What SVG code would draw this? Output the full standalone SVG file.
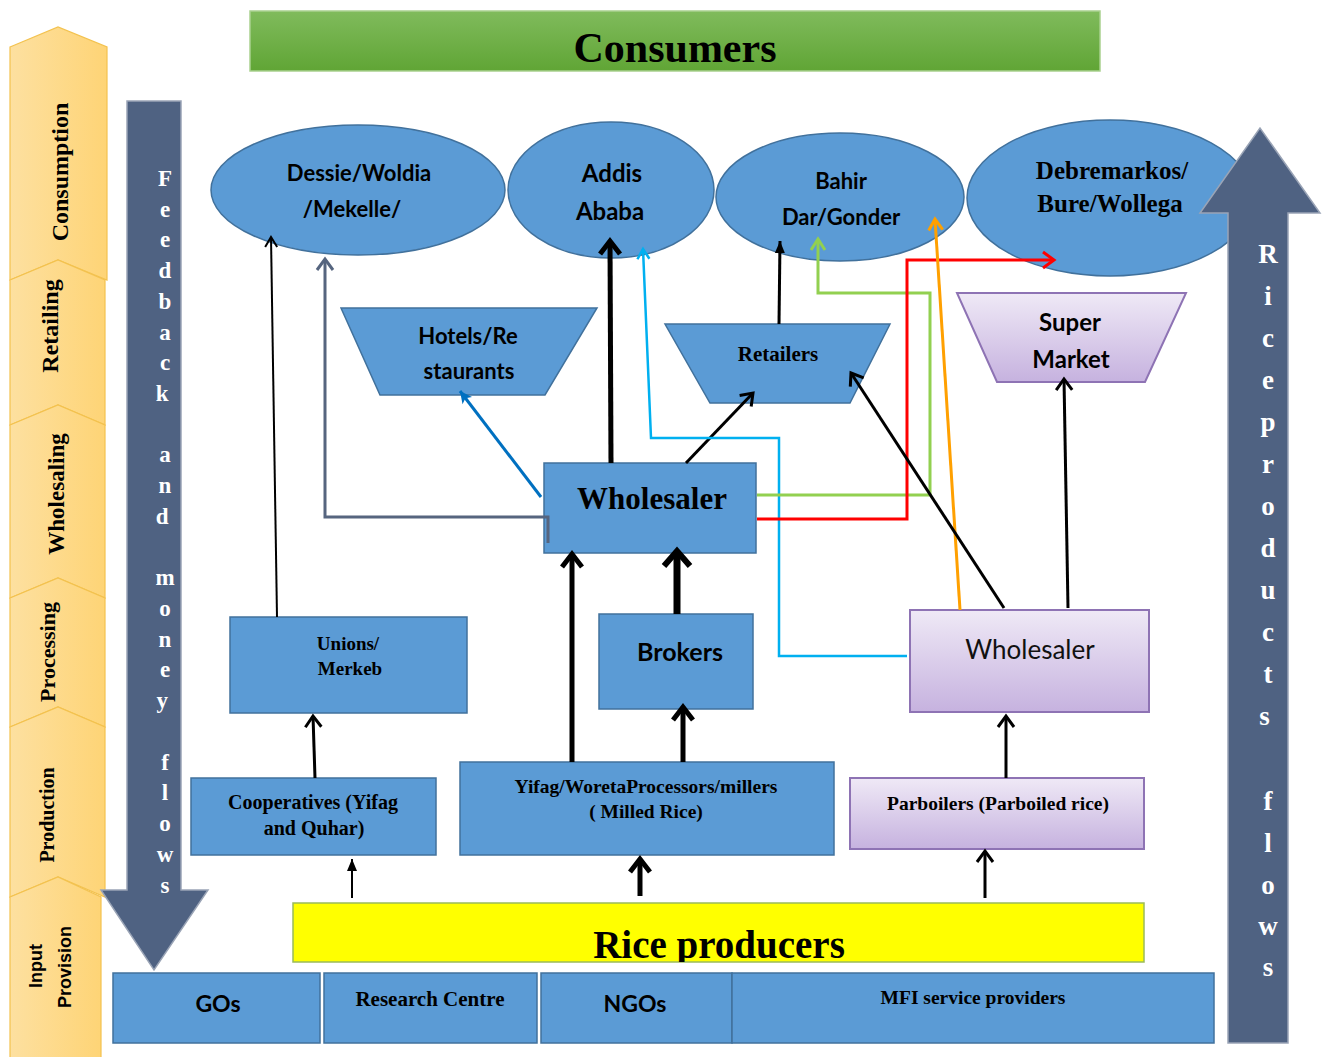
<svg xmlns="http://www.w3.org/2000/svg" width="1325" height="1057" viewBox="0 0 1325 1057">
<defs>
<style>
.blue{fill:#5b9bd5;stroke:#41719c;stroke-width:1.5}
.purp{fill:url(#gp);stroke:#8e73b4;stroke-width:2}
.chev{fill:url(#go);stroke:#f3c24f;stroke-width:1.2}
.flow{fill:#4f6282;stroke:#9aa4b6;stroke-width:1.5}
.serif{font-family:"Liberation Serif","Times New Roman",serif;font-weight:bold;fill:#000}
.sans{font-family:Lato,"Liberation Sans",Arial,sans-serif;font-weight:bold;fill:#000}
.sans2{font-family:"Liberation Sans",Arial,sans-serif;font-weight:bold;fill:#000}
.wl{font-family:"Liberation Serif","Times New Roman",serif;font-weight:bold;fill:#fff}
.c{text-anchor:middle}
.ln{fill:none;stroke-linecap:butt;stroke-linejoin:miter}
</style>
<linearGradient id="gg" x1="0" y1="0" x2="0" y2="1"><stop offset="0" stop-color="#80bb5c"/><stop offset="1" stop-color="#60a535"/></linearGradient>
<linearGradient id="gp" x1="0" y1="0" x2="0" y2="1"><stop offset="0" stop-color="#efe9f6"/><stop offset="1" stop-color="#c6b2df"/></linearGradient>
<linearGradient id="go" x1="0" y1="0" x2="1" y2="0"><stop offset="0" stop-color="#fde0a0"/><stop offset="1" stop-color="#fed476"/></linearGradient>
<clipPath id="riceclip"><rect x="293" y="903" width="851" height="59"/></clipPath>
<marker id="k2" markerUnits="userSpaceOnUse" viewBox="-20 -10 22 20" markerWidth="22" markerHeight="20" refX="0" refY="0" orient="auto" overflow="visible"><path d="M-10,-6 L0,0 L-10,6" fill="none" stroke="#000" stroke-width="2"/></marker>
<marker id="k3" markerUnits="userSpaceOnUse" viewBox="-20 -10 22 20" markerWidth="22" markerHeight="20" refX="0" refY="0" orient="auto" overflow="visible"><path d="M-11,-8 L0,0 L-11,8" fill="none" stroke="#000" stroke-width="3"/></marker>
<marker id="k5" markerUnits="userSpaceOnUse" viewBox="-20 -14 22 28" markerWidth="22" markerHeight="28" refX="0" refY="0" orient="auto" overflow="visible"><path d="M-13,-10 L0,0 L-13,10" fill="none" stroke="#000" stroke-width="5"/></marker>
<marker id="k7" markerUnits="userSpaceOnUse" viewBox="-24 -16 26 32" markerWidth="26" markerHeight="32" refX="0" refY="0" orient="auto" overflow="visible"><path d="M-15,-13 L0,0 L-15,13" fill="none" stroke="#000" stroke-width="6"/></marker>
<marker id="kf" markerUnits="userSpaceOnUse" viewBox="-14 -8 16 16" markerWidth="16" markerHeight="16" refX="0" refY="0" orient="auto" overflow="visible"><path d="M-12,-5 L0,0 L-12,5 Z" fill="#000"/></marker>
<marker id="s3" markerUnits="userSpaceOnUse" viewBox="-20 -10 22 20" markerWidth="22" markerHeight="20" refX="0" refY="0" orient="auto" overflow="visible"><path d="M-11,-8 L0,0 L-11,8" fill="none" stroke="#56657f" stroke-width="3"/></marker>
<marker id="b3" markerUnits="userSpaceOnUse" viewBox="-16 -10 18 20" markerWidth="18" markerHeight="20" refX="0" refY="0" orient="auto" overflow="visible"><path d="M-12,-6 L0,0 L-12,6 L-9,0 Z" fill="#0070c0"/></marker>
<marker id="c3" markerUnits="userSpaceOnUse" viewBox="-16 -10 18 20" markerWidth="18" markerHeight="20" refX="0" refY="0" orient="auto" overflow="visible"><path d="M-10,-6 L0,0 L-10,6" fill="none" stroke="#00b0f0" stroke-width="2.5"/></marker>
<marker id="g3" markerUnits="userSpaceOnUse" viewBox="-16 -10 18 20" markerWidth="18" markerHeight="20" refX="0" refY="0" orient="auto" overflow="visible"><path d="M-11,-7 L0,0 L-11,7" fill="none" stroke="#92d050" stroke-width="3"/></marker>
<marker id="r3" markerUnits="userSpaceOnUse" viewBox="-16 -10 18 20" markerWidth="18" markerHeight="20" refX="0" refY="0" orient="auto" overflow="visible"><path d="M-11,-8 L0,0 L-11,8" fill="none" stroke="#ff0000" stroke-width="3"/></marker>
<marker id="o3" markerUnits="userSpaceOnUse" viewBox="-16 -10 18 20" markerWidth="18" markerHeight="20" refX="0" refY="0" orient="auto" overflow="visible"><path d="M-11,-7 L0,0 L-11,7" fill="none" stroke="#ffa000" stroke-width="3"/></marker>
</defs>
<rect width="1325" height="1057" fill="#fff"/>

<g id="stages">
<polygon class="chev" points="10,47 58,27 107,47 107,280 58,260 10,280"/>
<polygon class="chev" points="10,280 58,260 105,280 105,425 58,405 10,425"/>
<polygon class="chev" points="10,425 58,405 105,425 105,598 58,578 10,598"/>
<polygon class="chev" points="10,598 58,578 105,598 105,727 58,707 10,727"/>
<polygon class="chev" points="10,727 58,707 105,727 105,897 58,877 10,897"/>
<polygon class="chev" points="10,897 58,877 101,897 101,1060 10,1060"/>
<text class="serif c" font-size="24" transform="translate(68,172) rotate(-90)">Consumption</text>
<text class="serif c" font-size="24" transform="translate(58,326) rotate(-90)">Retailing</text>
<text class="serif c" font-size="23" transform="translate(64,494) rotate(-90)">Wholesaling</text>
<text class="serif c" font-size="22" transform="translate(55,652) rotate(-90)">Processing</text>
<text class="serif c" font-size="20" transform="translate(54,815) rotate(-90)">Production</text>
<text class="sans2 c" font-size="18" transform="translate(42,966) rotate(-90)">Input</text>
<text class="sans2 c" font-size="18" transform="translate(71,967) rotate(-90)">Provision</text>
</g>

<g id="consumers">
<rect x="250" y="11" width="850" height="60" fill="url(#gg)" stroke="#a9d18e" stroke-width="1.5"/>
<text class="serif c" x="675" y="62" font-size="42">Consumers</text>
</g>

<g id="feedback-arrow">
<polygon class="flow" points="127,101 181,101 181,890 208,890 154,970 101,890 127,890"/>
<text class="wl c" font-size="23">
<tspan x="165" y="186">F</tspan><tspan x="165" y="216.7">e</tspan><tspan x="165" y="247.4">e</tspan><tspan x="165" y="278">d</tspan><tspan x="165" y="308.8">b</tspan><tspan x="165" y="339.5">a</tspan><tspan x="165" y="370">c</tspan><tspan x="165" y="401">k</tspan>
<tspan x="165" y="462">a</tspan><tspan x="165" y="493">n</tspan><tspan x="165" y="524">d</tspan>
<tspan x="165" y="585">m</tspan><tspan x="165" y="616">o</tspan><tspan x="165" y="646.6">n</tspan><tspan x="165" y="677">e</tspan><tspan x="165" y="708">y</tspan>
<tspan x="165" y="769.6">f</tspan><tspan x="165" y="800">l</tspan><tspan x="165" y="831">o</tspan><tspan x="165" y="862">w</tspan><tspan x="165" y="892.6">s</tspan>
</text>
</g>

<g id="dessie">
<ellipse class="blue" cx="358" cy="190" rx="147" ry="65"/>
<text class="sans c" x="359" y="181" font-size="22">Dessie/Woldia</text>
<text class="sans c" x="352" y="217" font-size="22">/Mekelle/</text>
</g>
<g id="addis">
<ellipse class="blue" cx="611" cy="190" rx="103" ry="68"/>
<text class="sans c" x="612" y="182" font-size="24">Addis</text>
<text class="sans c" x="610" y="220" font-size="24">Ababa</text>
</g>
<g id="bahir">
<ellipse class="blue" cx="840" cy="197" rx="124" ry="64"/>
<text class="sans c" x="841" y="189" font-size="22">Bahir</text>
<text class="sans c" x="841" y="225" font-size="22">Dar/Gonder</text>
</g>
<g id="debremarkos">
<ellipse class="blue" cx="1110" cy="198" rx="143" ry="78"/>
<text class="serif c" x="1112" y="179" font-size="25">Debremarkos/</text>
<text class="serif c" x="1110" y="212" font-size="25">Bure/Wollega</text>
</g>

<g id="hotels">
<polygon class="blue" points="341,308 597,308 545,395 380,395"/>
<text class="sans c" x="468" y="344" font-size="22">Hotels/Re</text>
<text class="sans c" x="469" y="379" font-size="22">staurants</text>
</g>
<g id="retailers">
<polygon class="blue" points="665,324 890,324 850,403 710,403"/>
<text class="serif c" x="778" y="361" font-size="21">Retailers</text>
</g>
<g id="supermarket">
<polygon class="purp" points="957,293 1186,293 1145,382 997,382"/>
<text class="sans c" x="1070" y="331" font-size="24">Super</text>
<text class="sans c" x="1071" y="368" font-size="24">Market</text>
</g>

<g id="wholesaler-blue">
<rect class="blue" x="544" y="463" width="212" height="90"/>
<text class="serif c" x="652" y="509" font-size="31">Wholesaler</text>
</g>
<g id="unions">
<rect class="blue" x="230" y="617" width="237" height="96"/>
<text class="serif c" x="348" y="650" font-size="19">Unions/</text>
<text class="serif c" x="350" y="675" font-size="19">Merkeb</text>
</g>
<g id="brokers">
<rect class="blue" x="599" y="614" width="154" height="95"/>
<text class="sans c" x="680" y="661" font-size="25">Brokers</text>
</g>
<g id="wholesaler-purple">
<rect class="purp" x="910" y="610" width="239" height="102"/>
<text class="c" x="1030" y="659" font-size="26" font-family="Lato,'Liberation Sans',Arial,sans-serif" fill="#111">Wholesaler</text>
</g>
<g id="cooperatives">
<rect class="blue" x="191" y="778" width="245" height="77"/>
<text class="serif c" x="313" y="809" font-size="20">Cooperatives (Yifag</text>
<text class="serif c" x="314" y="835" font-size="20">and Quhar)</text>
</g>
<g id="processors">
<rect class="blue" x="460" y="762" width="374" height="93"/>
<text class="serif c" x="646" y="793" font-size="19.5">Yifag/WoretaProcessors/millers</text>
<text class="serif c" x="646" y="818" font-size="19.5">( Milled Rice)</text>
</g>
<g id="parboilers">
<rect class="purp" x="850" y="778" width="294" height="71"/>
<text class="serif c" x="998" y="810" font-size="19.5">Parboilers (Parboiled rice)</text>
</g>
<g id="rice-producers">
<rect x="293" y="903" width="851" height="59" fill="#ffff00" stroke="#9bbb59" stroke-width="1.5"/>
<text class="serif c" x="719" y="958" font-size="39" clip-path="url(#riceclip)">Rice producers</text>
</g>

<g id="gos">
<rect class="blue" x="113" y="973" width="207" height="70"/>
<text class="sans c" x="218" y="1012" font-size="23">GOs</text>
</g>
<g id="research">
<rect class="blue" x="324" y="973" width="213" height="70"/>
<text class="serif c" x="430" y="1006" font-size="21">Research Centre</text>
</g>
<g id="ngos">
<rect class="blue" x="541" y="973" width="191" height="70"/>
<text class="sans c" x="635" y="1012" font-size="23">NGOs</text>
</g>
<g id="mfi">
<rect class="blue" x="732" y="973" width="482" height="70"/>
<text class="serif c" x="973" y="1004" font-size="19.5">MFI service providers</text>
</g>

<g id="connectors">
<path class="ln" d="M277,617 L271,237" stroke="#000" stroke-width="2" marker-end="url(#k2)"/>
<path class="ln" d="M548,543 V517 H325 V259" stroke="#56657f" stroke-width="3" marker-end="url(#s3)"/>
<path class="ln" d="M541,497 L460,391" stroke="#0070c0" stroke-width="3" marker-end="url(#b3)"/>
<path class="ln" d="M611,463 L610,241" stroke="#000" stroke-width="5" marker-end="url(#k5)"/>
<path class="ln" d="M686,463 L753,393" stroke="#000" stroke-width="3" marker-end="url(#k3)"/>
<path class="ln" d="M907,656 H779 V438 H651 L643,249" stroke="#00b0f0" stroke-width="2.5" marker-end="url(#c3)"/>
<path class="ln" d="M757,495 H930 V293 H818 V239" stroke="#92d050" stroke-width="3" marker-end="url(#g3)"/>
<path class="ln" d="M757,519 H907 V260 H1054" stroke="#ff0000" stroke-width="3" marker-end="url(#r3)"/>
<path class="ln" d="M960,610 L935,219" stroke="#ffa000" stroke-width="3" marker-end="url(#o3)"/>
<path class="ln" d="M1004,608 L851,373" stroke="#000" stroke-width="3" marker-end="url(#k3)"/>
<path class="ln" d="M1068,608 L1064,379" stroke="#000" stroke-width="3" marker-end="url(#k3)"/>
<path class="ln" d="M779,324 L780,241" stroke="#000" stroke-width="3" marker-end="url(#kf)"/>
<path class="ln" d="M572,762 L572,554" stroke="#000" stroke-width="5" marker-end="url(#k5)"/>
<path class="ln" d="M677,614 L677,551" stroke="#000" stroke-width="7" marker-end="url(#k7)"/>
<path class="ln" d="M683,762 L683,707" stroke="#000" stroke-width="5" marker-end="url(#k5)"/>
<path class="ln" d="M315,778 L313,716" stroke="#000" stroke-width="3" marker-end="url(#k3)"/>
<path class="ln" d="M1006,778 L1006,716" stroke="#000" stroke-width="3" marker-end="url(#k3)"/>
<path class="ln" d="M352,898 L352,859" stroke="#000" stroke-width="2" marker-end="url(#kf)"/>
<path class="ln" d="M640,896 L640,859" stroke="#000" stroke-width="5" marker-end="url(#k5)"/>
<path class="ln" d="M985,898 L985,851" stroke="#000" stroke-width="3" marker-end="url(#k3)"/>
</g>

<g id="products-arrow">
<polygon class="flow" points="1228,1043 1288,1043 1288,213 1320,213 1260,128 1200,213 1228,213"/>
<text class="wl c" font-size="27">
<tspan x="1268" y="263">R</tspan><tspan x="1268" y="305">i</tspan><tspan x="1268" y="347">c</tspan><tspan x="1268" y="389">e</tspan><tspan x="1268" y="431">p</tspan><tspan x="1268" y="473">r</tspan><tspan x="1268" y="515">o</tspan><tspan x="1268" y="557">d</tspan><tspan x="1268" y="599">u</tspan><tspan x="1268" y="641">c</tspan><tspan x="1268" y="683">t</tspan><tspan x="1268" y="725">s</tspan>
<tspan x="1268" y="810">f</tspan><tspan x="1268" y="852">l</tspan><tspan x="1268" y="894">o</tspan><tspan x="1268" y="935">w</tspan><tspan x="1268" y="976">s</tspan>
</text>
</g>
</svg>
